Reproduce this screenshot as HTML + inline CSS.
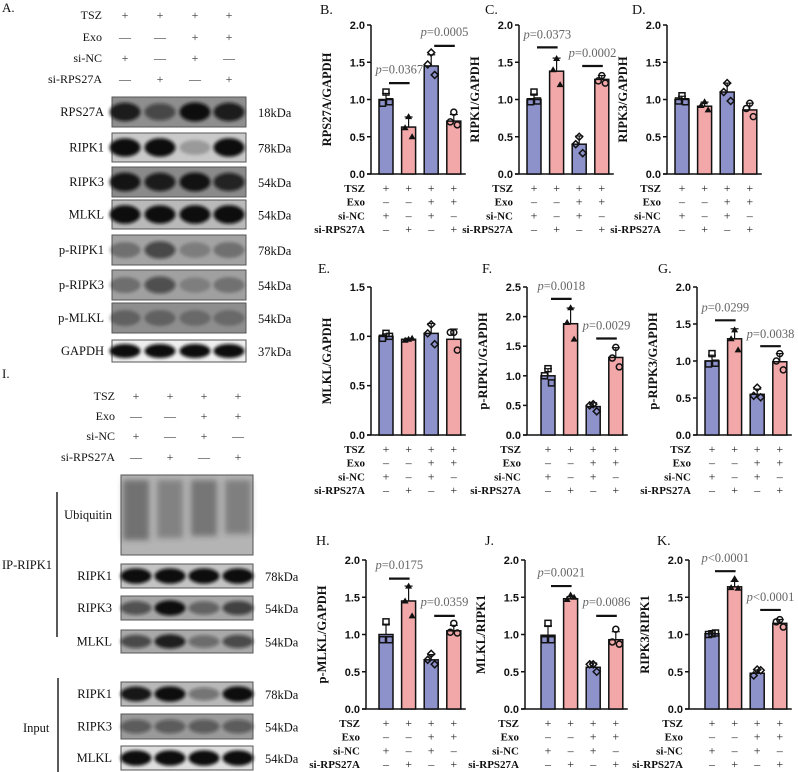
<!DOCTYPE html>
<html><head><meta charset="utf-8"><style>
html,body{margin:0;padding:0;background:#fff;}
svg{display:block;}
.serif{font-family:"Liberation Serif",serif;}
.sans{font-family:"Liberation Sans",sans-serif;}
</style></head><body>
<svg id="fig" width="798" height="772" viewBox="0 0 798 772" xmlns="http://www.w3.org/2000/svg">
<defs>
<filter id="blur" x="-30%" y="-60%" width="160%" height="220%"><feGaussianBlur stdDeviation="1.6"/></filter>
<filter id="blur2" x="-30%" y="-30%" width="160%" height="160%"><feGaussianBlur stdDeviation="3"/></filter>
</defs>
</svg>
<script>
// ---------- chart data ----------
const groups = ["TSZ+si-NC","TSZ+si-RPS27A","TSZ+Exo+si-NC","TSZ+Exo+si-RPS27A"];
const condRows = ["TSZ","Exo","si-NC","si-RPS27A"];
const condSigns = [["+","+","+","+"],["\u2013","\u2013","+","+"],["+","\u2013","+","\u2013"],["\u2013","+","\u2013","+"]];

const bMeans=[1.0,0.63,1.45,0.71];
const bPoints=[[1.1,0.95,0.97],[0.77,0.62,0.5],[1.63,1.47,1.33],[0.83,0.7,0.66]];
const bP=["0.0367","0.0005"];
const cMeans=[1.0,1.38,0.4,1.27];
const cPoints=[[1.1,0.97,0.98],[1.55,1.4,1.2],[0.5,0.4,0.28],[1.32,1.25,1.22]];
const cP=["0.0373","0.0002"];
const dMeans=[1.0,0.91,1.1,0.86];
const dPoints=[[1.05,0.98,0.97],[0.97,0.92,0.86],[1.22,1.1,0.98],[0.95,0.88,0.77]];
const eMeans=[1.0,0.97,1.03,0.97];
const ePoints=[[1.03,0.98,1.0],[0.97,0.96,0.98],[1.12,1.03,0.92],[1.04,1.04,0.86]];
const fMeans=[1.0,1.88,0.48,1.31];
const fPoints=[[1.12,1.0,0.88],[2.15,1.9,1.62],[0.52,0.5,0.4],[1.48,1.3,1.15]];
const fP=["0.0018","0.0029"];
const gMeans=[1.0,1.3,0.55,0.99];
const gPoints=[[1.1,0.96,0.97],[1.42,1.3,1.15],[0.64,0.53,0.51],[1.1,1.0,0.88]];
const gP=["0.0299","0.0038"];
const hMeans=[1.0,1.45,0.66,1.05];
const hPoints=[[1.17,0.93,0.93],[1.65,1.45,1.25],[0.74,0.66,0.6],[1.15,1.03,1.02]];
const hP=["0.0175","0.0359"];
const jMeans=[0.99,1.48,0.56,0.93];
const jPoints=[[1.15,0.93,0.93],[1.53,1.47,1.5],[0.6,0.6,0.5],[1.07,0.9,0.87]];
const jP=["0.0021","0.0086"];
const kMeans=[1.01,1.64,0.48,1.15];
const kPoints=[[1.01,1.0,1.02],[1.75,1.63,1.62],[0.53,0.45,0.52],[1.2,1.17,1.1]];
const kP=["<0.0001","<0.0001"];

const NS="http://www.w3.org/2000/svg";
const svg=document.getElementById('fig');
function mk(tag,attrs,parent,txt){const e=document.createElementNS(NS,tag);for(const k in attrs)e.setAttribute(k,attrs[k]);if(txt!==undefined)e.textContent=txt;(parent||svg).appendChild(e);return e;}

const panels=[
 {L:"B.",lx:320,ly:14,ax:371,bx:386,y0:174,yt:25,max:2.0,step:0.5,title:"RPS27A/GAPDH",m:bMeans,p:bPoints,pv:bP,brk:[[0,1,1.22,1.35],[2,3,1.72,1.85]]},
 {L:"C.",lx:485,ly:14,ax:519,bx:534,y0:174,yt:25,max:2.0,step:0.5,title:"RIPK1/GAPDH",m:cMeans,p:cPoints,pv:cP,brk:[[0,1,1.7,1.82],[2,3,1.45,1.57]]},
 {L:"D.",lx:632,ly:14,ax:667,bx:682,y0:174,yt:25,max:2.0,step:0.5,title:"RIPK3/GAPDH",m:dMeans,p:dPoints,pv:null,brk:[]},
 {L:"E.",lx:318,ly:273,ax:371,bx:386,y0:435,yt:287,max:1.5,step:0.5,title:"MLKL/GAPDH",m:eMeans,p:ePoints,pv:null,brk:[]},
 {L:"F.",lx:482,ly:273,ax:527,bx:548,y0:435,yt:287,max:2.5,step:0.5,title:"p-RIPK1/GAPDH",m:fMeans,p:fPoints,pv:fP,brk:[[0,1,2.3,2.45],[2,3,1.63,1.78]]},
 {L:"G.",lx:658,ly:273,ax:697,bx:712,y0:435,yt:287,max:2.0,step:0.5,title:"p-RIPK3/GAPDH",m:gMeans,p:gPoints,pv:gP,brk:[[0,1,1.55,1.67],[2,3,1.2,1.31]]},
 {L:"H.",lx:316,ly:545,ax:366,bx:386,y0:709,yt:560,max:2.0,step:0.5,title:"p-MLKL/GAPDH",m:hMeans,p:hPoints,pv:hP,brk:[[0,1,1.75,1.88],[2,3,1.25,1.38]]},
 {L:"J.",lx:485,ly:545,ax:525,bx:548,y0:709,yt:560,max:2.0,step:0.5,title:"MLKL/RIPK1",m:jMeans,p:jPoints,pv:jP,brk:[[0,1,1.65,1.78],[2,3,1.25,1.38]]},
 {L:"K.",lx:657,ly:545,ax:689,bx:712,y0:709,yt:560,max:2.0,step:0.5,title:"RIPK3/RIPK1",m:kMeans,p:kPoints,pv:kP,brk:[[0,1,1.85,1.97],[2,3,1.33,1.45]]}
];
const colors=["#8d92cb","#f2a8a8","#8d92cb","#f2a8a8"];
const sp=22.6, bw=14;

function marker(g,k,x,y){
 if(k===0) mk('rect',{x:x-3,y:y-3,width:6,height:6,fill:'none',stroke:'#111','stroke-width':1.5},g);
 else if(k===1) mk('polygon',{points:`${x},${y-3.5} ${x+3.5},${y+2.5} ${x-3.5},${y+2.5}`,fill:'#111'},g);
 else if(k===2) mk('polygon',{points:`${x},${y-3.5} ${x+3.5},${y} ${x},${y+3.5} ${x-3.5},${y}`,fill:'none',stroke:'#111','stroke-width':1.5},g);
 else mk('circle',{cx:x,cy:y,r:3,fill:'none',stroke:'#111','stroke-width':1.5},g);
}

panels.forEach((P,pi)=>{
 const g=mk('g',{});
 
 
 const ys=v=>P.y0-(v/P.max)*(P.y0-P.yt);
 const xs=i=>P.bx+i*sp;
 const lab=mk('text',{x:P.lx,y:P.ly,'font-size':14,class:'serif',fill:'#111'},g,P.L);
 
 
 const xEnd=xs(3)+12;
 const ya=mk('line',{x1:P.ax,y1:P.yt,x2:P.ax,y2:P.y0,stroke:'#111','stroke-width':1.5},g);
 
 
 const xa=mk('line',{x1:P.ax-4,y1:P.y0,x2:xEnd,y2:P.y0,stroke:'#111','stroke-width':1.5},g);
 
 
 for(let v=0;v<=P.max+1e-9;v+=P.step){
  const y=ys(v);
  mk('line',{x1:P.ax-4,y1:y,x2:P.ax,y2:y,stroke:'#111','stroke-width':1.5},g);
  const t=mk('text',{x:P.ax-6,y:y+4,'font-size':11,'font-weight':'bold','text-anchor':'end',class:'sans',fill:'#111'},g,v.toFixed(1));
  
  
 }
 const yc=(P.y0+P.yt)/2, tx=P.ax-40;
 const tt=mk('text',{x:tx,y:yc,'font-size':12.5,'font-weight':'bold','text-anchor':'middle',class:'serif',fill:'#111',transform:`rotate(-90 ${tx} ${yc})`},g,P.title);
 
 
 P.m.forEach((v,i)=>{
  const x=xs(i);
  const r=mk('rect',{x:x-bw/2,y:ys(v),width:bw,height:P.y0-ys(v),fill:colors[i],stroke:'#111','stroke-width':1.5},g);
  
  
  const pts=P.p[i];
  const mean=pts.reduce((a,b)=>a+b,0)/pts.length;
  const sd=Math.sqrt(pts.reduce((a,b)=>a+(b-mean)*(b-mean),0)/(pts.length-1));
  mk('line',{x1:x,y1:ys(v+sd),x2:x,y2:ys(v),stroke:'#111','stroke-width':1.2},g);
  mk('line',{x1:x-4,y1:ys(v+sd),x2:x+4,y2:ys(v+sd),stroke:'#111','stroke-width':1.2},g);
  const off=[0,-3.5,3.5];
  pts.forEach((pv,k)=>marker(g,i,x+off[k],ys(pv)));
 });
 P.brk.forEach((b,bi)=>{
  const x1=xs(b[0])+3,x2=xs(b[1])+1;
  const ln=mk('line',{x1:x1,y1:ys(b[2]),x2:x2,y2:ys(b[2]),stroke:'#111','stroke-width':2.2},g);
  
  
  const t=mk('text',{x:(x1+x2)/2,y:ys(b[3]),'font-size':12.5,'text-anchor':'middle',class:'serif',fill:'#666'},g);
  
  
  mk('tspan',{'font-style':'italic'},t,'p');
  mk('tspan',{},t,(P.pv[bi][0]==='<'?'<':'=')+P.pv[bi].replace('<',''));
 });
 condRows.forEach((c,r)=>{
  const y=P.y0+18+r*13.7;
  const t=mk('text',{x:P.ax-6,y:y,'font-size':11,'font-weight':'bold','text-anchor':'end',class:'serif',fill:'#111'},g,c);
  
  
  condSigns[r].forEach((s,i)=>mk('text',{x:xs(i),y:y,'font-size':12,'text-anchor':'middle',class:'serif',fill:'#222'},g,s));
 });
});

function header(gx,lanes,ys,labelX){
 condRows.forEach((c,r)=>{
  const t=mk('text',{x:labelX,y:ys[r],'font-size':12,'text-anchor':'end',class:'serif',fill:'#111'},gx,c);
  
  
  condSigns[r].forEach((s,i)=>mk('text',{x:lanes[i],y:ys[r],'font-size':12,'text-anchor':'middle',class:'serif',fill:'#333'},gx,s==='\u2013'?'\u2014':s));
 });
}
function blotRow(gx,name,x1,x2,y1,y2,lanes,ints,bg,lx,kx,kda,wide){
 const r=mk('g',{},gx);
 
 
 mk('rect',{x:x1,y:y1,width:x2-x1,height:y2-y1,fill:bg,stroke:'#555','stroke-width':1},r);
 const cy=(y1+y2)/2, h=y2-y1;
 ints.forEach((v,i)=>{
  mk('ellipse',{cx:lanes[i],cy:cy,rx:(wide||15.5),ry:h*0.24+v*h*0.08,fill:'#111','fill-opacity':Math.min(1,v*1.05),filter:'url(#blur)'},r);
 });
 mk('text',{x:lx,y:cy+4,'font-size':12.5,'text-anchor':'end',class:'serif',fill:'#111'},r,name);
 if(kda) mk('text',{x:kx,y:cy+5,'font-size':12.5,class:'serif',fill:'#111'},r,kda);
}
const gA=mk('g',{});


mk('text',{x:2,y:12,'font-size':13,class:'serif',fill:'#111'},gA,'A.');
const lanesA=[125,160,195,229];
header(gA,lanesA,[19,41,62,83],102);
const rowsA=[
 ["RPS27A",97,127,[0.85,0.55,0.95,0.85],"#8e8e8e","18kDa"],
 ["RIPK1",133,162,[0.95,1,0.22,1],"#c9c9c9","78kDa"],
 ["RIPK3",167,197,[0.9,0.85,0.92,0.8],"#8a8a8a","54kDa"],
 ["MLKL",200,229,[1,0.95,1,1],"#b9b9b9","54kDa"],
 ["p-RIPK1",235,265,[0.3,0.6,0.22,0.3],"#a3a3a3","78kDa"],
 ["p-RIPK3",270,300,[0.3,0.55,0.2,0.28],"#a0a0a0","54kDa"],
 ["p-MLKL",303,333,[0.3,0.3,0.25,0.25],"#8e8e8e","54kDa"],
 ["GAPDH",340,362,[1,1,1,1],"#efefef","37kDa"]
];
rowsA.forEach(r=>blotRow(gA,r[0],112,246,r[1],r[2],lanesA,r[3],r[4],104,258,r[5]));

const gI=mk('g',{});


mk('text',{x:2,y:378,'font-size':13,class:'serif',fill:'#111'},gI,'I.');
const lanesI=[136,170,204,238];
header(gI,lanesI,[400,420,440,461],115);
const ub=mk('g',{},gI);


mk('rect',{x:121,y:475,width:132,height:80,fill:'#b4b4b4',stroke:'#555','stroke-width':1},ub);
const ubInt=[0.55,0.4,0.5,0.42];
ubInt.forEach((v,i)=>{
 mk('rect',{x:lanesI[i]-13,y:480,width:26,height:60-i*2,fill:'#3a3a3a','fill-opacity':v,filter:'url(#blur2)'},ub);
});
mk('text',{x:112,y:519,'font-size':12.5,'text-anchor':'end',class:'serif',fill:'#111'},ub,'Ubiquitin');
const rowsI=[
 ["RIPK1",564,588,[1,1,1,1],"#c4c4c4","78kDa"],
 ["RIPK3",596,620,[0.55,0.95,0.45,0.65],"#a6a6a6","54kDa"],
 ["MLKL",630,653,[0.6,0.85,0.4,0.6],"#a9a9a9","54kDa"],
 ["RIPK1",682,706,[0.9,1,0.4,1],"#b8b8b8","78kDa"],
 ["RIPK3",714,739,[0.45,0.45,0.45,0.45],"#9a9a9a","54kDa"],
 ["MLKL",746,770,[1,1,1,1],"#dedede","54kDa"]
];
rowsI.forEach(r=>blotRow(gI,r[0],121,253,r[1],r[2],lanesI,r[3],r[4],112,265,r[5]));
mk('line',{x1:57,y1:492,x2:57,y2:637,stroke:'#222','stroke-width':1.5},gI);
mk('line',{x1:58,y1:678,x2:58,y2:772,stroke:'#222','stroke-width':1.5},gI);
mk('text',{x:2,y:569,'font-size':12.5,class:'serif',fill:'#111'},gI,'IP-RIPK1');
mk('text',{x:23,y:732,'font-size':12.5,class:'serif',fill:'#111'},gI,'Input');
</script>
</body></html>
